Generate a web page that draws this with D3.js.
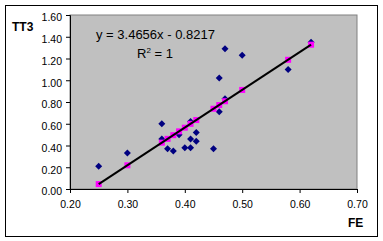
<!DOCTYPE html>
<html>
<head>
<meta charset="utf-8">
<script src="https://cdn.jsdelivr.net/npm/d3@7"></script>
<style>
  body { margin: 0; background: #fff; }
  text { font-family: "Liberation Sans", Arial, sans-serif; }
</style>
</head>
<body>
<script>
// FE values (x) and observed TT3 (blue diamonds)
var feValues = [0.25, 0.30, 0.36, 0.36, 0.37, 0.38, 0.39, 0.40, 0.41, 0.41, 0.41, 0.42, 0.42, 0.45, 0.46, 0.46, 0.47, 0.47, 0.50, 0.58, 0.62];
var tt3Values = [0.21, 0.33, 0.60, 0.46, 0.37, 0.35, 0.50, 0.38, 0.46, 0.38, 0.62, 0.52, 0.44, 0.37, 0.71, 1.02, 1.29, 0.83, 1.23, 1.10, 1.35];

// predicted TT3 (magenta squares)
var fitX = [0.25, 0.30, 0.36, 0.37, 0.38, 0.39, 0.40, 0.41, 0.42, 0.45, 0.46, 0.47, 0.50, 0.58, 0.62];
var fitY = [0.045, 0.218, 0.426, 0.461, 0.495, 0.530, 0.564, 0.599, 0.634, 0.738, 0.772, 0.807, 0.911, 1.188, 1.327];

// trendline shown in the chart
var slope = 3.4656;
var intercept = -0.8217;

var xTicks = [0.20, 0.30, 0.40, 0.50, 0.60, 0.70];
var yTicks = [0.00, 0.20, 0.40, 0.60, 0.80, 1.00, 1.20, 1.40, 1.60];

var svgWidth = 383, svgHeight = 241;
var plotLeft = 70, plotRight = 357, plotTop = 15, plotBottom = 189;

var svg = d3.select('body').append('svg').attr('width', svgWidth).attr('height', svgHeight);

// outer frame
svg.append('rect').attr('x', 5.5).attr('y', 5.5).attr('width', 372).attr('height', 231)
    .attr('fill', '#fff').attr('stroke', '#000').attr('stroke-width', 1);

var x = d3.scaleLinear().domain([0.2, 0.7]).range([plotLeft, plotRight]);
var y = d3.scaleLinear().domain([0, 1.6]).range([plotBottom, plotTop]);

// plot area
svg.append('rect').attr('x', plotLeft).attr('y', plotTop)
    .attr('width', plotRight - plotLeft).attr('height', plotBottom - plotTop)
    .attr('fill', '#c0c0c0').attr('stroke', '#808080').attr('stroke-width', 1);

var fmt = d3.format('.2f');

var yAxis = svg.append('g').attr('transform', 'translate(' + plotLeft + ',0)')
    .call(d3.axisLeft(y).tickValues(yTicks).tickFormat(fmt).tickSize(4).tickPadding(4));
var xAxis = svg.append('g').attr('transform', 'translate(0,' + plotBottom + ')')
    .call(d3.axisBottom(x).tickValues(xTicks).tickFormat(fmt).tickSize(4).tickPadding(8));

[xAxis, yAxis].forEach(function (g) {
    g.selectAll('path').attr('stroke', '#000');
    g.selectAll('line').attr('stroke', '#000');
    g.selectAll('text').attr('font-size', 10.5).attr('fill', '#000')
        .style('font-family', '"Liberation Sans", Arial, sans-serif');
});
yAxis.selectAll('text').attr('dy', '0.55em');

// diamonds
svg.append('g').selectAll('path')
    .data(feValues)
    .enter()
    .append('path')
    .attr('d', 'M0,-3.5L3.5,0L0,3.5L-3.5,0Z')
    .attr('transform', function (d, i) {
        return 'translate(' + x(d) + ',' + y(tt3Values[i]) + ')';
    })
    .attr('fill', '#000080');

// squares
svg.append('g').selectAll('rect')
    .data(fitX)
    .enter()
    .append('rect')
    .attr('x', function (d) { return x(d) - 3; })
    .attr('y', function (d, i) { return y(fitY[i]) - 3; })
    .attr('width', 6)
    .attr('height', 6)
    .attr('fill', '#ff00ff');

// trendline
var x0 = d3.min(fitX), x1 = d3.max(fitX);
svg.append('line')
    .attr('x1', x(x0)).attr('y1', y(slope * x0 + intercept))
    .attr('x2', x(x1)).attr('y2', y(slope * x1 + intercept))
    .attr('stroke', '#000').attr('stroke-width', 2);

// labels
svg.append('text').attr('x', 12).attr('y', 31).attr('font-size', 12).attr('font-weight', 'bold').text('TT3');
svg.append('text').attr('x', 348).attr('y', 227).attr('font-size', 12).attr('font-weight', 'bold').text('FE');

svg.append('text').attr('x', 96).attr('y', 39).attr('font-size', 13).text('y = 3.4656x - 0.8217');
var r2 = svg.append('text').attr('x', 137).attr('y', 58).attr('font-size', 13);
r2.append('tspan').text('R');
r2.append('tspan').attr('font-size', 8).attr('dy', -5).text('2');
r2.append('tspan').attr('dy', 5).text(' = 1');
</script>
</body>
</html>
